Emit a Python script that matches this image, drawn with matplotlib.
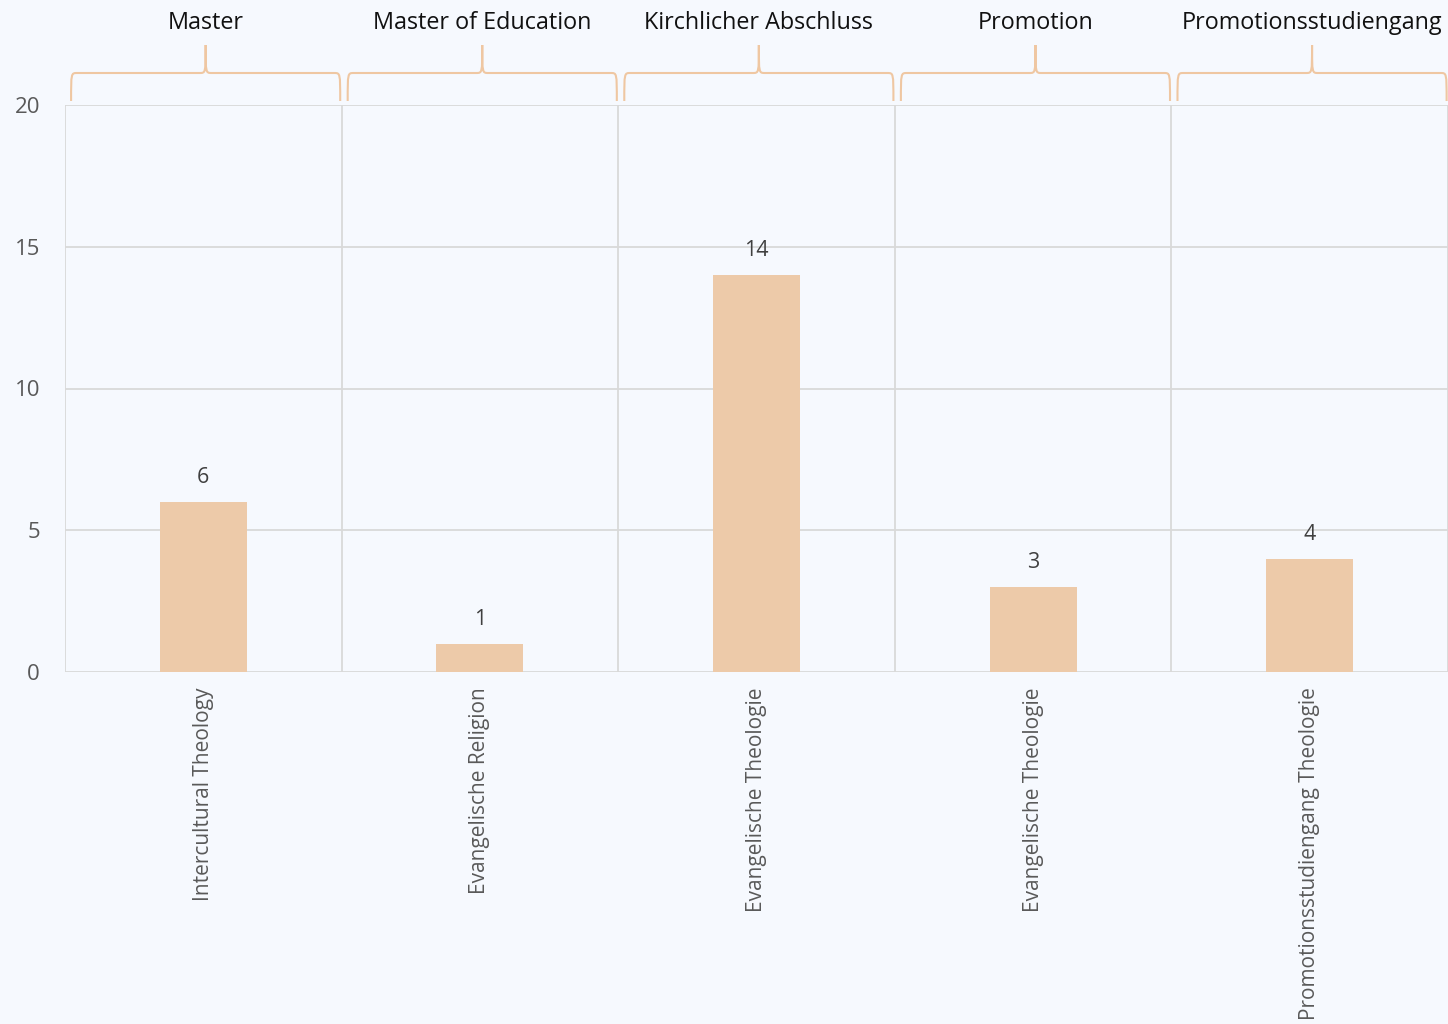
import matplotlib
matplotlib.use("Agg")
import matplotlib.pyplot as plt
from matplotlib.path import Path
from matplotlib.patches import PathPatch
from matplotlib.transforms import blended_transform_factory

groups = ["Master", "Master of Education", "Kirchlicher Abschluss", "Promotion", "Promotionsstudiengang"]
programs = ["Intercultural Theology", "Evangelische Religion", "Evangelische Theologie",
            "Evangelische Theologie", "Promotionsstudiengang Theologie"]
counts = [6, 1, 14, 3, 4]
yticks = [0, 5, 10, 15, 20]

bg = "#F6F9FE"
bar_color = "#EDCAA9"
brace_color = "#EFC7A2"
grid_color = "#D9D9D9"
font = ["Open Sans", "DejaVu Sans"]

plt.rcParams["font.family"] = font

fig = plt.figure(figsize=(14.48, 10.24), dpi=100, facecolor=bg)
ax = fig.add_axes([65 / 1448, 1 - 672 / 1024, 1 - 65 / 1448, (672 - 105) / 1024], facecolor=bg)

x = list(range(len(counts)))
ax.bar(x, counts, width=0.315, color=bar_color, zorder=3)
for xi, v in zip(x, counts):
    ax.annotate(str(v), (xi, v), xytext=(0, 10), textcoords="offset points",
                ha="center", va="bottom", fontsize=15.5, color="#404040")

ax.set_xlim(-0.5, len(counts) - 0.5)
ax.set_ylim(0, 20)
ax.set_yticks(yticks)
ax.set_yticklabels([str(t) for t in yticks], fontsize=16, color="#595959")
ax.tick_params(axis="y", length=0, pad=18)
ax.set_xticks(x)
ax.set_xticklabels(programs, rotation=90, fontsize=15, color="#595959", va="top")
ax.tick_params(axis="x", length=0, pad=11)

for t in yticks:
    ax.axhline(t, color=grid_color, lw=1.3, zorder=1)
for b in [i - 0.5 for i in range(len(counts) + 1)]:
    ax.axvline(b, color=grid_color, lw=1.3, zorder=1)
for s in ax.spines.values():
    s.set_visible(False)

# group braces above the plot area
tr = blended_transform_factory(ax.transData, fig.transFigure)
y_end = 1 - 101 / 1024
y_bar = 1 - 73 / 1024
y_tip = 1 - 45 / 1024
dx = 0.022
for i, name in enumerate(groups):
    x0 = i - 0.5 + 0.022
    x1 = i + 0.5 - 0.005
    xm = (x0 + x1) / 2
    verts = [
        (x0, y_end),
        (x0, y_bar), (x0, y_bar), (x0 + dx, y_bar),
        (xm - dx, y_bar),
        (xm, y_bar), (xm, y_bar), (xm, y_tip),
        (xm, y_bar), (xm, y_bar), (xm + dx, y_bar),
        (x1 - dx, y_bar),
        (x1, y_bar), (x1, y_bar), (x1, y_end),
    ]
    codes = [Path.MOVETO,
             Path.CURVE4, Path.CURVE4, Path.CURVE4,
             Path.LINETO,
             Path.CURVE4, Path.CURVE4, Path.CURVE4,
             Path.CURVE4, Path.CURVE4, Path.CURVE4,
             Path.LINETO,
             Path.CURVE4, Path.CURVE4, Path.CURVE4]
    ax.add_patch(PathPatch(Path(verts, codes), transform=tr, fill=False,
                           edgecolor=brace_color, lw=1.5, clip_on=False))
    ax.text(xm, 1 - 23 / 1024, name, transform=tr, ha="center", va="center",
            fontsize=16.8, color="#111111")

fig.savefig("out.png", dpi=100, facecolor=bg)
